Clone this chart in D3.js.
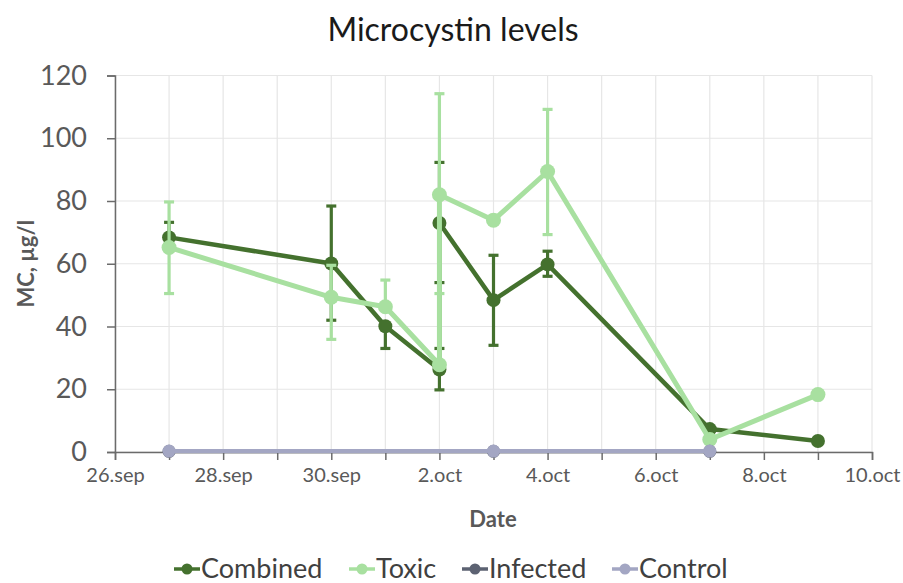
<!DOCTYPE html>
<html>
<head>
<meta charset="utf-8">
<script src="https://cdn.jsdelivr.net/npm/d3@7"></script>
<style>
  body { margin: 0; background: #fff; }
  text { font-family: Lato, "Open Sans", sans-serif; }
</style>
</head>
<body>
<svg id="chart" width="903" height="583"></svg>
<script>
// dates of sampling, 2.oct sampled twice
const combinedDates = ['2019-09-27', '2019-09-30', '2019-10-01', '2019-10-02', '2019-10-02', '2019-10-03', '2019-10-04', '2019-10-07', '2019-10-09']
const combinedValues = [68.4, 60.1, 40.1, 26.3, 73.0, 48.4, 59.8, 7.3, 3.5]
const combinedLow = [null, 42.0, 33.0, 19.8, 54.0, 34.0, 56.0, null, null]
const combinedHigh = [73.2, 78.4, null, 33.0, 92.3, 62.7, 64.0, null, null]

const toxicDates = ['2019-09-27', '2019-09-30', '2019-10-01', '2019-10-02', '2019-10-02', '2019-10-03', '2019-10-04', '2019-10-07', '2019-10-09']
const toxicValues = [65.2, 49.3, 46.3, 27.8, 82.0, 73.9, 89.4, 4.0, 18.3]
const toxicLow = [50.5, 35.9, null, null, 50.5, null, 69.3, null, null]
const toxicHigh = [79.7, 59.5, 54.8, null, 114.2, null, 109.2, null, null]

const infectedDates = ['2019-09-27', '2019-10-03', '2019-10-07']
const infectedValues = [0.2, 0.2, 0.2]

const controlDates = ['2019-09-27', '2019-10-03', '2019-10-07']
const controlValues = [0.3, 0.3, 0.3]

const yTicks = [0, 20, 40, 60, 80, 100, 120]
const xDomain = ['2019-09-26', '2019-10-10']
const legendNames = ['Combined', 'Toxic', 'Infected', 'Control']

const colors = {Combined: '#44712e', Toxic: '#a8e0a0', Infected: '#5c6272', Control: '#a3a6c3'}

const parse = d3.timeParse('%Y-%m-%d')
const svg = d3.select('#chart')

const plotLeft = 115, plotRight = 872, plotTop = 75.5, plotBottom = 452

const x = d3.scaleTime()
            .domain(xDomain.map(parse))
            .range([plotLeft, plotRight])
const y = d3.scaleLinear()
            .domain([0, 120])
            .range([plotBottom, plotTop])

const days = d3.timeDay.range(parse(xDomain[0]), d3.timeDay.offset(parse(xDomain[1]), 1))

// gridlines
svg.append('g').selectAll('line')
   .data(yTicks)
   .join('line')
   .attr('x1', plotLeft).attr('x2', plotRight)
   .attr('y1', d => y(d)).attr('y2', d => y(d))
   .style('stroke', '#e6e6e6').style('stroke-width', 1.2)

svg.append('g').selectAll('line')
   .data(days)
   .join('line')
   .attr('x1', d => x(d)).attr('x2', d => x(d))
   .attr('y1', plotTop).attr('y2', plotBottom)
   .style('stroke', '#e6e6e6').style('stroke-width', 1.2)

// axes
const yAxis = svg.append('g')
                 .attr('transform', `translate(${plotLeft},0)`)
                 .call(d3.axisLeft(y).tickValues(yTicks).tickSize(8).tickPadding(20))
yAxis.select('.domain').style('stroke', '#6b6b6b').style('stroke-width', 1.5)
yAxis.selectAll('.tick line').style('stroke', '#6b6b6b').style('stroke-width', 1.5)
yAxis.selectAll('.tick text')
     .style('font-size', '27px').style('fill', '#595959').style('font-family', 'Lato')

const fmt = d3.timeFormat('%-d.%b')
const xAxis = svg.append('g')
                 .attr('transform', `translate(0,${plotBottom})`)
                 .call(d3.axisBottom(x).tickValues(days).tickSize(8).tickPadding(8)
                         .tickFormat((d, i) => i % 2 == 0 ? fmt(d).toLowerCase() : ''))
xAxis.select('.domain').style('stroke', '#6b6b6b').style('stroke-width', 1.5)
xAxis.selectAll('.tick line').style('stroke', '#6b6b6b').style('stroke-width', 1.5)
xAxis.selectAll('.tick text')
     .style('font-size', '20px').style('fill', '#595959').style('font-family', 'Lato')

// titles
svg.append('text')
   .text('Microcystin levels')
   .attr('x', 453).attr('y', 41)
   .style('text-anchor', 'middle')
   .style('font-size', '32px').style('fill', '#1a1a1a')

svg.append('text')
   .text('Date')
   .attr('x', 493).attr('y', 527)
   .style('text-anchor', 'middle')
   .style('font-size', '22px').style('font-weight', 'bold').style('fill', '#595959')

svg.append('text')
   .text('MC, µg/l')
   .attr('transform', `translate(34, ${(plotTop + plotBottom) / 2})rotate(-90)`)
   .style('text-anchor', 'middle')
   .style('font-size', '22px').style('font-weight', 'bold').style('fill', '#595959')

const line = d3.line()
               .x(d => x(d.date))
               .y(d => y(d.value))

let makeSeries = (dates, values, low, high) =>
  dates.map((d, i) => ({date: parse(d), value: values[i],
                        low: low ? low[i] : null, high: high ? high[i] : null}))

let drawSeries = (name, data, lineWidth, radius) => {
  const g = svg.append('g').attr('class', name)
  const color = colors[name]
  const bars = data.filter(d => d.low != null || d.high != null)

  g.selectAll('.err')
   .data(bars)
   .join('line')
   .attr('x1', d => x(d.date)).attr('x2', d => x(d.date))
   .attr('y1', d => y(d.low != null ? d.low : d.value))
   .attr('y2', d => y(d.high != null ? d.high : d.value))
   .style('stroke', color).style('stroke-width', 3.2)

  const caps = []
  bars.forEach(d => {
    if (d.low != null) caps.push({date: d.date, v: d.low})
    if (d.high != null) caps.push({date: d.date, v: d.high})
  })
  g.selectAll('.cap')
   .data(caps)
   .join('line')
   .attr('x1', d => x(d.date) - 5).attr('x2', d => x(d.date) + 5)
   .attr('y1', d => y(d.v)).attr('y2', d => y(d.v))
   .style('stroke', color).style('stroke-width', 3.2)

  g.append('path')
   .datum(data)
   .attr('d', line)
   .style('fill', 'none')
   .style('stroke', color)
   .style('stroke-width', lineWidth)
   .style('stroke-linejoin', 'round')

  g.selectAll('circle')
   .data(data)
   .join('circle')
   .attr('cx', d => x(d.date)).attr('cy', d => y(d.value))
   .attr('r', radius)
   .style('fill', color)
}

drawSeries('Combined', makeSeries(combinedDates, combinedValues, combinedLow, combinedHigh), 4.5, 7)
drawSeries('Toxic', makeSeries(toxicDates, toxicValues, toxicLow, toxicHigh), 5, 7.5)
drawSeries('Infected', makeSeries(infectedDates, infectedValues), 4, 6.5)
drawSeries('Control', makeSeries(controlDates, controlValues), 4, 6.5)

// legend
const legendX = [174, 349, 462, 612]
const legend = svg.append('g')
legendNames.forEach((name, i) => {
  const item = legend.append('g').attr('transform', `translate(${legendX[i]}, 569)`)
  item.append('line')
      .attr('x1', 0).attr('x2', 26).attr('y1', 0).attr('y2', 0)
      .style('stroke', colors[name]).style('stroke-width', 3.5)
  item.append('circle')
      .attr('cx', 13).attr('cy', 0).attr('r', 5.5)
      .style('fill', colors[name])
  item.append('text')
      .text(name)
      .attr('x', 27).attr('y', 9)
      .style('font-size', '27px').style('fill', '#404040')
})
</script>
</body>
</html>
